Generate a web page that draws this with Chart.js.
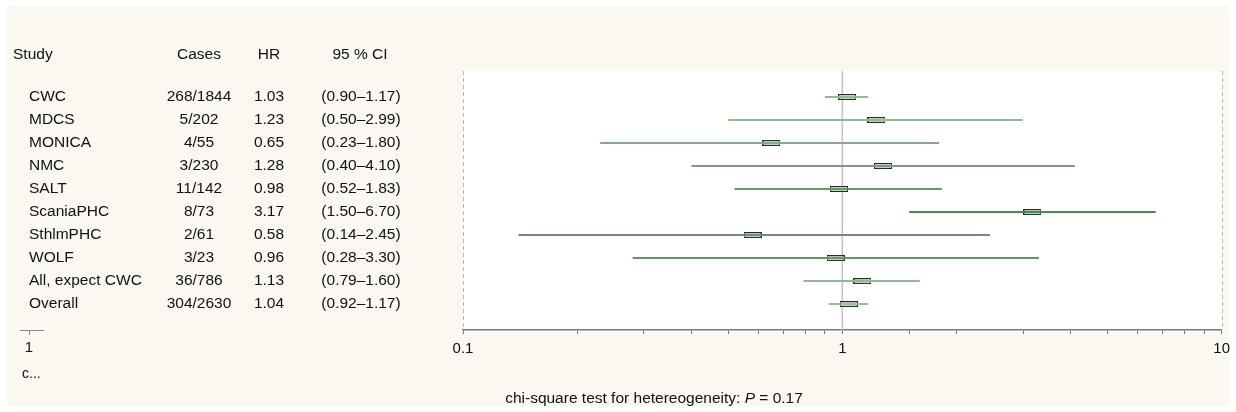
<!DOCTYPE html>
<html>
<head>
<meta charset="utf-8">
<script src="https://cdn.jsdelivr.net/npm/chart.js@4"></script>
<style>
  html, body { margin: 0; padding: 0; background: #fff; }
  #wrap { width: 1236px; height: 412px; }
</style>
</head>
<body>
<div id="wrap"><canvas id="forest" width="1236" height="412"></canvas></div>
<script>
// data
const studies = ['CWC', 'MDCS', 'MONICA', 'NMC', 'SALT', 'ScaniaPHC', 'SthlmPHC', 'WOLF', 'All, expect CWC', 'Overall'];
const cases = ['268/1844', '5/202', '4/55', '3/230', '11/142', '8/73', '2/61', '3/23', '36/786', '304/2630'];
const hr = [1.03, 1.23, 0.65, 1.28, 0.98, 3.17, 0.58, 0.96, 1.13, 1.04];
const ciLow = [0.90, 0.50, 0.23, 0.40, 0.52, 1.50, 0.14, 0.28, 0.79, 0.92];
const ciHigh = [1.17, 2.99, 1.80, 4.10, 1.83, 6.70, 2.45, 3.30, 1.60, 1.17];
const xTicks = [0.1, 1, 10];
const headers = ['Study', 'Cases', 'HR', '95 % CI'];

const FONT = "'Liberation Sans', Arial, Helvetica, sans-serif";
const CREAM = '#fbf8f1';
const lineColors = ['#97b897', '#97b897', '#84aa84', '#84968a', '#669866', '#4a874a', '#74897c', '#639663', '#95b795', '#9cbc9c'];

// box marker used as point style
const boxImg = document.createElement('canvas');
boxImg.width = 18; boxImg.height = 6;
(function() {
  const c = boxImg.getContext('2d');
  c.fillStyle = '#b7d7b5';
  c.fillRect(0.5, 0.5, 17, 5);
  c.strokeStyle = '#2a2a2a';
  c.lineWidth = 1;
  c.strokeRect(0.5, 0.5, 17, 5);
})();

const ciSets = studies.map((s, i) => ({
  label: s,
  data: [{ x: ciLow[i], y: i }, { x: ciHigh[i], y: i }],
  showLine: true,
  borderColor: lineColors[i],
  borderWidth: 1.8,
  pointRadius: 0,
}));

const boxSet = {
  label: 'HR',
  data: hr.map((v, i) => ({ x: v, y: i })),
  pointStyle: boxImg,
  pointRadius: 4,
};

const fmtCI = i => '(' + ciLow[i].toFixed(2) + '\u2013' + ciHigh[i].toFixed(2) + ')';

const backdrop = {
  id: 'backdrop',
  beforeDraw(chart) {
    const { ctx, chartArea: a } = chart;
    ctx.save();
    ctx.fillStyle = '#fff';
    ctx.fillRect(0, 0, chart.width, chart.height);
    ctx.fillStyle = CREAM;
    ctx.fillRect(7, 6, chart.width - 14, chart.height - 12);
    ctx.fillStyle = '#fff';
    ctx.fillRect(a.left, a.top, a.right - a.left, a.bottom - a.top);
    ctx.restore();
  },
  beforeDatasetsDraw(chart) {
    const { ctx, chartArea: a, scales: { x } } = chart;
    ctx.save();
    // dashed edges at 0.1 and 10
    ctx.strokeStyle = '#b5b5b5';
    ctx.lineWidth = 1;
    ctx.setLineDash([4, 3]);
    [xTicks[0], xTicks[2]].forEach(v => {
      const px = Math.round(x.getPixelForValue(v)) + 0.5;
      ctx.beginPath(); ctx.moveTo(px, a.top); ctx.lineTo(px, a.bottom); ctx.stroke();
    });
    // reference line at HR = 1
    ctx.setLineDash([]);
    ctx.strokeStyle = '#c2c2c2';
    ctx.lineWidth = 1.5;
    const p1 = x.getPixelForValue(xTicks[1]);
    ctx.beginPath(); ctx.moveTo(p1, a.top); ctx.lineTo(p1, a.bottom); ctx.stroke();
    ctx.restore();
  },
  afterDraw(chart) {
    const { ctx, scales: { y } } = chart;
    ctx.save();
    ctx.fillStyle = '#111';
    ctx.textBaseline = 'middle';
    ctx.font = '15.5px ' + FONT;
    // header row
    const hy = 55;
    ctx.textAlign = 'left';
    ctx.fillText(headers[0], 13, hy);
    ctx.textAlign = 'center';
    ctx.fillText(headers[1], 199, hy);
    ctx.fillText(headers[2], 269, hy);
    ctx.fillText(headers[3], 360, hy);
    // study rows
    studies.forEach((s, i) => {
      const py = y.getPixelForValue(i);
      ctx.textAlign = 'left';
      ctx.fillText(s, 29, py);
      ctx.textAlign = 'center';
      ctx.fillText(cases[i], 199, py);
      ctx.fillText(hr[i].toFixed(2), 269, py);
      ctx.fillText(fmtCI(i), 361, py);
    });
    // stray mini axis in the left panel
    ctx.strokeStyle = '#8a8a8a';
    ctx.lineWidth = 1;
    ctx.beginPath(); ctx.moveTo(20, 330.5); ctx.lineTo(44, 330.5); ctx.stroke();
    ctx.beginPath(); ctx.moveTo(29.5, 330.5); ctx.lineTo(29.5, 335); ctx.stroke();
    ctx.font = '15px ' + FONT;
    ctx.fillText('1', 29, 348);
    ctx.textAlign = 'left';
    ctx.font = '14px ' + FONT;
    ctx.fillText('c...', 22, 374);
    // heterogeneity note
    const a = 'chi-square test for hetereogeneity: ', b = 'P', c = ' = 0.17';
    const sz = '15.5px ';
    ctx.font = sz + FONT;
    const wa = ctx.measureText(a).width, wc = ctx.measureText(c).width;
    ctx.font = 'italic ' + sz + FONT;
    const wb = ctx.measureText(b).width;
    let tx = 654 - (wa + wb + wc) / 2;
    ctx.font = sz + FONT;
    ctx.fillText(a, tx, 399); tx += wa;
    ctx.font = 'italic ' + sz + FONT;
    ctx.fillText(b, tx, 399); tx += wb;
    ctx.font = sz + FONT;
    ctx.fillText(c, tx, 399);
    ctx.restore();
  }
};

new Chart(document.getElementById('forest'), {
  type: 'scatter',
  data: { datasets: [...ciSets, boxSet] },
  options: {
    responsive: false,
    animation: false,
    devicePixelRatio: 1,
    layout: { padding: { left: 463, right: 13, top: 71, bottom: 52 } },
    plugins: { legend: { display: false }, tooltip: { enabled: false } },
    scales: {
      x: {
        type: 'logarithmic',
        min: 0.1,
        max: 10,
        afterFit: s => { s.height = 30; },
        grid: { drawOnChartArea: false, drawTicks: true, tickLength: 4, tickColor: '#777', tickWidth: 1 },
        border: { display: true, color: '#7a7a7a', width: 1.5 },
        ticks: {
          autoSkip: false,
          maxRotation: 0,
          padding: 6,
          color: '#111',
          font: { family: FONT, size: 15 },
          callback: v => {
            const t = xTicks.find(k => Math.abs(k - v) < 1e-9);
            return t === undefined ? '' : String(t);
          }
        }
      },
      y: {
        type: 'linear',
        display: false,
        reverse: true,
        min: -1.13,
        max: 10.13
      }
    }
  },
  plugins: [backdrop]
});
</script>
</body>
</html>
